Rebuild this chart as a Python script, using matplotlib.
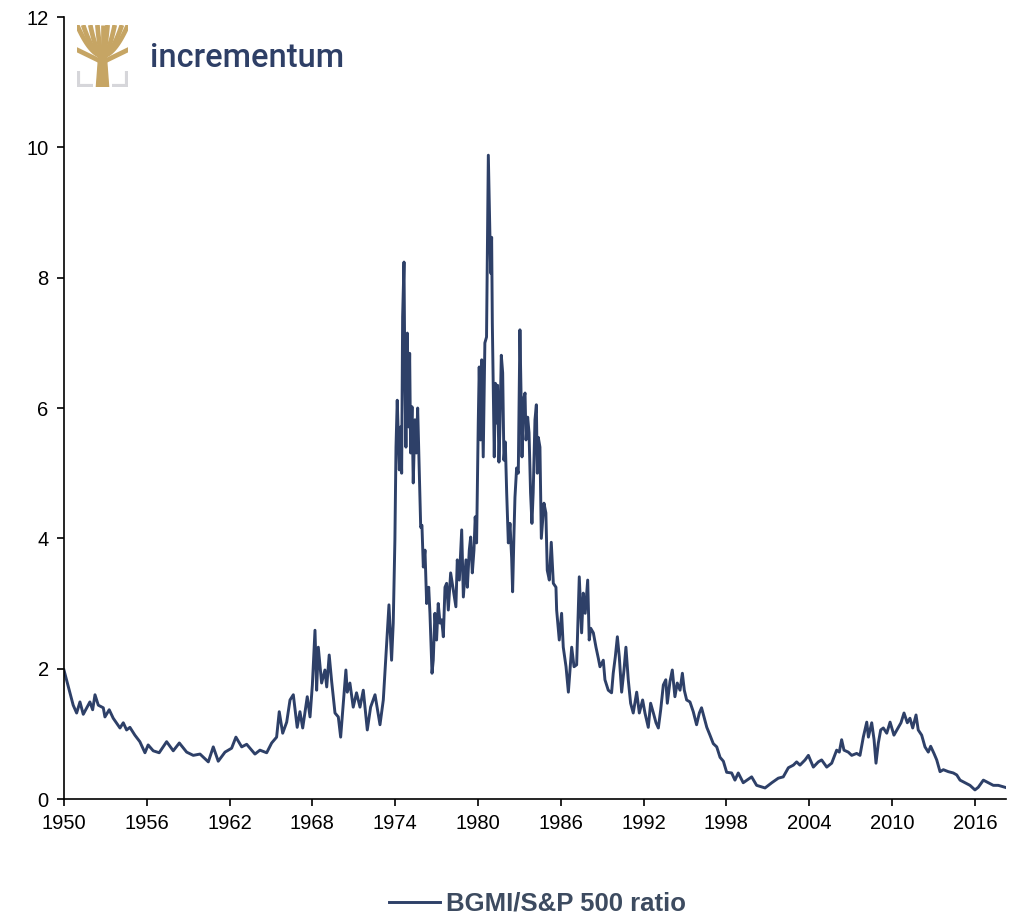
import matplotlib.pyplot as plt
import numpy as np

# BGMI / S&P 500 ratio (decimal year, ratio)
years = [
    1950.00, 1950.43, 1950.67, 1950.92, 1951.16, 1951.40, 1951.88, 1952.08, 1952.25, 1952.49,
    1952.85, 1952.97, 1953.28, 1953.57, 1954.06, 1954.30, 1954.54, 1954.78, 1955.14, 1955.50,
    1955.87, 1956.10, 1956.47, 1956.90, 1957.44, 1957.92, 1958.36, 1958.89, 1959.37, 1959.86,
    1960.46, 1960.82, 1961.18, 1961.67, 1962.15, 1962.46, 1962.88, 1963.24, 1963.84, 1964.20,
    1964.69, 1965.05, 1965.41, 1965.60, 1965.85, 1966.14, 1966.38, 1966.62, 1966.90, 1967.10,
    1967.30, 1967.63, 1967.83, 1968.00, 1968.19, 1968.31, 1968.43, 1968.67, 1968.91, 1969.04,
    1969.22, 1969.40, 1969.64, 1969.88, 1970.05, 1970.24, 1970.43, 1970.53, 1970.72, 1970.96,
    1971.20, 1971.45, 1971.69, 1971.98, 1972.22, 1972.54, 1972.90, 1973.14, 1973.38, 1973.55,
    1973.74, 1973.86, 1973.98, 1974.06, 1974.15, 1974.30, 1974.40, 1974.47, 1974.54, 1974.64,
    1974.70, 1974.78, 1974.88, 1974.97, 1975.05, 1975.12, 1975.22, 1975.31, 1975.43, 1975.53,
    1975.63, 1975.75, 1975.85, 1975.94, 1976.04, 1976.16, 1976.28, 1976.43, 1976.52, 1976.67,
    1976.76, 1976.88, 1977.00, 1977.12, 1977.25, 1977.37, 1977.49, 1977.61, 1977.73, 1977.85,
    1978.02, 1978.21, 1978.40, 1978.50, 1978.65, 1978.82, 1978.94, 1979.13, 1979.23, 1979.37,
    1979.47, 1979.59, 1979.71, 1979.80, 1979.90, 1980.02, 1980.09, 1980.19, 1980.27, 1980.38,
    1980.50, 1980.62, 1980.75, 1980.87, 1980.92, 1980.99, 1981.04, 1981.11, 1981.18, 1981.26,
    1981.35, 1981.42, 1981.52, 1981.59, 1981.69, 1981.79, 1981.88, 1981.98, 1982.08, 1982.20,
    1982.32, 1982.44, 1982.51, 1982.61, 1982.68, 1982.80, 1982.92, 1983.04, 1983.12, 1983.19,
    1983.28, 1983.41, 1983.48, 1983.60, 1983.70, 1983.81, 1983.91, 1984.00, 1984.13, 1984.23,
    1984.30, 1984.37, 1984.49, 1984.59, 1984.78, 1984.92, 1985.02, 1985.17, 1985.31, 1985.46,
    1985.65, 1985.70, 1985.89, 1986.06, 1986.18, 1986.38, 1986.55, 1986.79, 1986.96, 1987.15,
    1987.34, 1987.51, 1987.63, 1987.77, 1987.95, 1988.06, 1988.17, 1988.36, 1988.55, 1988.72,
    1988.84, 1989.08, 1989.20, 1989.44, 1989.68, 1989.80, 1989.95, 1990.10, 1990.24, 1990.41,
    1990.58, 1990.72, 1990.89, 1991.06, 1991.25, 1991.50, 1991.69, 1991.93, 1992.10, 1992.34,
    1992.51, 1992.71, 1992.90, 1993.07, 1993.24, 1993.43, 1993.61, 1993.72, 1993.91, 1994.08,
    1994.27, 1994.44, 1994.64, 1994.81, 1994.95, 1995.12, 1995.36, 1995.60, 1995.84, 1996.04,
    1996.20, 1996.38, 1996.58, 1996.81, 1997.05, 1997.30, 1997.54, 1997.78, 1998.02, 1998.38,
    1998.62, 1998.86, 1999.22, 1999.83, 2000.19, 2000.80, 2001.29, 2001.76, 2002.12, 2002.49,
    2002.85, 2003.09, 2003.33, 2003.70, 2003.94, 2004.30, 2004.66, 2004.90, 2005.27, 2005.63,
    2005.99, 2006.18, 2006.35, 2006.52, 2006.83, 2007.08, 2007.44, 2007.68, 2007.92, 2008.17,
    2008.29, 2008.53, 2008.70, 2008.84, 2009.01, 2009.18, 2009.37, 2009.62, 2009.86, 2010.14,
    2010.46, 2010.65, 2010.87, 2011.11, 2011.30, 2011.50, 2011.74, 2011.90, 2012.15, 2012.39,
    2012.63, 2012.80, 2013.04, 2013.24, 2013.48, 2013.72, 2014.08, 2014.44, 2014.69, 2014.93,
    2015.29, 2015.65, 2016.01, 2016.25, 2016.62, 2016.98, 2017.34, 2017.70, 2018.19,
]
ratio = [
    1.98, 1.63, 1.44, 1.32, 1.49, 1.30, 1.49, 1.37, 1.60, 1.44,
    1.40, 1.26, 1.37, 1.24, 1.09, 1.17, 1.06, 1.10, 0.98, 0.88,
    0.71, 0.83, 0.74, 0.71, 0.88, 0.74, 0.86, 0.72, 0.67, 0.69,
    0.57, 0.80, 0.58, 0.72, 0.78, 0.95, 0.80, 0.84, 0.69, 0.75,
    0.71, 0.86, 0.95, 1.34, 1.01, 1.18, 1.52, 1.60, 1.10, 1.34,
    1.09, 1.57, 1.26, 1.75, 2.59, 1.67, 2.33, 1.78, 1.98, 1.72,
    2.21, 1.80, 1.32, 1.26, 0.95, 1.47, 1.98, 1.64, 1.78, 1.41,
    1.63, 1.41, 1.67, 1.06, 1.41, 1.60, 1.14, 1.52, 2.39, 2.98,
    2.13, 2.70, 3.97, 5.40, 6.12, 5.05, 5.71, 5.00, 7.40, 8.24,
    6.54, 5.40, 7.15, 5.71, 6.84, 5.31, 6.02, 4.85, 5.82, 5.31,
    6.00, 5.00, 4.17, 4.20, 3.56, 3.82, 3.00, 3.25, 2.85, 1.93,
    2.13, 2.85, 2.44, 3.00, 2.70, 2.75, 2.49, 3.25, 3.31, 2.90,
    3.47, 3.21, 2.95, 3.67, 3.36, 4.13, 3.10, 3.67, 3.25, 3.82,
    4.02, 3.47, 3.82, 4.33, 3.93, 5.77, 6.63, 5.51, 6.74, 5.25,
    7.00, 7.09, 9.88, 8.58, 8.07, 8.62, 7.30, 6.32, 5.25, 6.38,
    5.77, 6.35, 5.17, 5.71, 6.81, 6.54, 5.20, 5.48, 4.70, 3.93,
    4.23, 3.70, 3.18, 4.08, 4.63, 5.08, 5.00, 7.20, 6.23, 5.25,
    6.12, 6.23, 5.51, 5.86, 5.62, 4.70, 4.23, 4.70, 5.82, 6.05,
    5.00, 5.55, 5.40, 4.00, 4.54, 4.39, 3.51, 3.36, 3.94, 3.31,
    3.25, 2.90, 2.44, 2.85, 2.33, 2.03, 1.64, 2.33, 2.03, 2.06,
    3.41, 2.55, 3.16, 2.85, 3.36, 2.44, 2.62, 2.55, 2.33, 2.16,
    2.03, 2.13, 1.83, 1.67, 1.63, 1.93, 2.18, 2.49, 2.18, 1.64,
    1.98, 2.33, 1.83, 1.47, 1.32, 1.64, 1.32, 1.52, 1.32, 1.10,
    1.47, 1.32, 1.17, 1.09, 1.37, 1.75, 1.83, 1.47, 1.80, 1.98,
    1.57, 1.78, 1.67, 1.93, 1.67, 1.52, 1.49, 1.34, 1.14, 1.32,
    1.40, 1.26, 1.10, 0.98, 0.85, 0.80, 0.64, 0.58, 0.41, 0.40,
    0.29, 0.40, 0.25, 0.34, 0.21, 0.17, 0.25, 0.32, 0.34, 0.48,
    0.52, 0.57, 0.52, 0.60, 0.67, 0.49, 0.57, 0.60, 0.49, 0.55,
    0.75, 0.72, 0.91, 0.75, 0.72, 0.67, 0.70, 0.67, 0.95, 1.18,
    0.95, 1.17, 0.91, 0.55, 0.86, 1.06, 1.09, 1.01, 1.18, 0.98,
    1.10, 1.17, 1.32, 1.17, 1.24, 1.09, 1.29, 1.06, 0.98, 0.80,
    0.72, 0.81, 0.70, 0.60, 0.42, 0.45, 0.42, 0.40, 0.37, 0.29,
    0.25, 0.21, 0.14, 0.18, 0.29, 0.25, 0.21, 0.21, 0.18,
]

x_ticks = [1950, 1956, 1962, 1968, 1974, 1980, 1986, 1992, 1998, 2004, 2010, 2016]
y_ticks = [0, 2, 4, 6, 8, 10, 12]
series_name = 'BGMI/S&P 500 ratio'

line_color = '#2E4068'
gold = '#C6A564'

plt.rcParams['font.family'] = ['Liberation Sans', 'DejaVu Sans']

fig = plt.figure(figsize=(10.15, 9.16), dpi=100)
ax = fig.add_axes([0.063, 0.1277, 0.928, 0.8537])

ax.plot(years, ratio, color=line_color, linewidth=2.1, label=series_name)

ax.set_xlim(1950, 2018.25)
ax.set_ylim(0, 12)
ax.set_xticks(x_ticks)
ax.set_yticks(y_ticks)
ax.tick_params(direction='out', length=5, width=1.2, labelsize=14.5, pad=6)
for side in ['top', 'right']:
    ax.spines[side].set_visible(False)
for side in ['left', 'bottom']:
    ax.spines[side].set_linewidth(1.2)

# legend below the plot
fig.legend(loc='center', bbox_to_anchor=(0.5296, 0.0135), frameon=False,
           handlelength=2.0, handletextpad=0.25,
           prop={'weight': 'bold', 'size': 18.5}, labelcolor='#3D4B60')

# logo: small tree icon plus wordmark
lax = fig.add_axes([77 / 1015, 1 - 87 / 916, 51 / 1015, 62 / 916])
lax.set_xlim(0, 1)
lax.set_ylim(0, 1)
lax.axis('off')
grey = '#D6D6DA'
lax.plot([0.02, 0.02, 0.32], [0.26, 0.02, 0.02], color=grey, linewidth=3, solid_capstyle='butt')
lax.plot([0.68, 0.98, 0.98], [0.02, 0.02, 0.26], color=grey, linewidth=3, solid_capstyle='butt')
lax.fill([0.38, 0.62, 0.57, 0.43], [0.0, 0.0, 0.55, 0.55], color=gold)
branch_tops = [0.0, 0.12, 0.26, 0.40, 0.5, 0.60, 0.74, 0.88, 1.0]
for bx in branch_tops:
    t = np.linspace(0, 1, 20)
    xs = 0.5 + (bx - 0.5) * t ** 0.7
    ys = 0.5 + 0.5 * t ** 1.3
    lax.plot(xs, ys, color=gold, linewidth=3.4, solid_capstyle='butt')
lax.plot([0.0, 0.45], [0.6, 0.42], color=gold, linewidth=3.4)
lax.plot([1.0, 0.55], [0.6, 0.42], color=gold, linewidth=3.4)

fig.text(150 / 1015, 1 - 58 / 916, 'incrementum', fontsize=23.5, family='Roboto',
         weight='medium', color='#2E3F66', va='center', ha='left')

plt.savefig('out.png', dpi=100)
